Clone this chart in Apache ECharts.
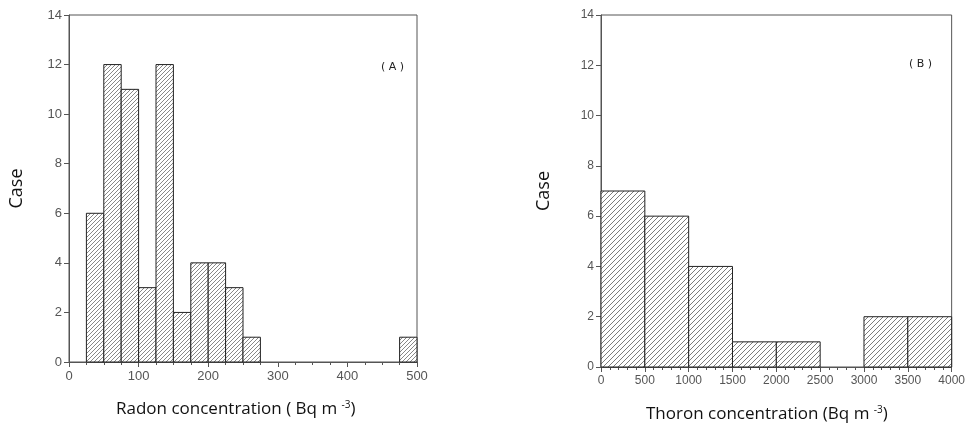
<!DOCTYPE html>
<html>
<head>
<meta charset="utf-8">
<script src="https://cdn.jsdelivr.net/npm/echarts@6/dist/echarts.min.js"></script>
<style>
  html, body { margin: 0; padding: 0; background: #fff; }
  #chart { width: 968px; height: 432px; }
</style>
</head>
<body>
<div id="chart"></div>
<script>
// radon histogram (A), bins 25 Bq/m3 wide
const radonBinWidth = 25
const radonBinStart = [25, 50, 75, 100, 125, 150, 175, 200, 225, 250, 475]
const radonCounts = [6, 12, 11, 3, 12, 2, 4, 4, 3, 1, 1]
const radonTicks = [0, 100, 200, 300, 400, 500]

// thoron histogram (B), bins 500 Bq/m3 wide
const thoronBinWidth = 500
const thoronBinStart = [0, 500, 1000, 1500, 2000, 2500, 3000, 3500]
const thoronCounts = [7, 6, 4, 1, 1, 0, 2, 2]
const thoronTicks = [0, 500, 1000, 1500, 2000, 2500, 3000, 3500, 4000]

const caseTicks = [0, 2, 4, 6, 8, 10, 12, 14]

// hatch fill "////"
function hatch(step, color) {
  const c = document.createElement('canvas')
  c.width = step
  c.height = step
  const ctx = c.getContext('2d')
  ctx.fillStyle = '#fff'
  ctx.fillRect(0, 0, step, step)
  ctx.strokeStyle = color
  ctx.lineWidth = 0.7
  ctx.beginPath()
  ctx.moveTo(-1, step + 1)
  ctx.lineTo(step + 1, -1)
  ctx.moveTo(-1, 1)
  ctx.lineTo(1, -1)
  ctx.moveTo(step - 1, step + 1)
  ctx.lineTo(step + 1, step - 1)
  ctx.stroke()
  return { image: c, repeat: 'repeat' }
}

function histData(starts, counts) {
  return starts.map((s, i) => [s, counts[i]])
}

function histSeries(idx, width, data, fill) {
  return {
    type: 'custom',
    xAxisIndex: idx,
    yAxisIndex: idx,
    data: data,
    renderItem: function (params, api) {
      const x0 = api.value(0)
      const y = api.value(1)
      if (!y) return
      const p0 = api.coord([x0, y])
      const p1 = api.coord([x0 + width, 0])
      return {
        type: 'rect',
        shape: { x: p0[0], y: p0[1], width: p1[0] - p0[0], height: p1[1] - p0[1] },
        style: { fill: fill, stroke: '#222', lineWidth: 1 }
      }
    }
  }
}

const axisCol = '#555'
const labelCol = '#555'

function xAx(idx, ticks, split, fontSize) {
  return {
    type: 'value',
    gridIndex: idx,
    min: ticks[0],
    max: ticks[ticks.length - 1],
    interval: ticks[1] - ticks[0],
    axisLine: { show: true, lineStyle: { color: axisCol } },
    axisTick: { show: true, length: 5, lineStyle: { color: axisCol } },
    minorTick: { show: true, splitNumber: split, length: 3, lineStyle: { color: axisCol } },
    splitLine: { show: false },
    axisLabel: {
      color: labelCol, fontSize: fontSize, fontFamily: 'Liberation Sans', margin: 8,
      formatter: v => String(v)
    }
  }
}

function yAx(idx, fontSize, gap) {
  return {
    type: 'value',
    gridIndex: idx,
    min: caseTicks[0],
    max: caseTicks[caseTicks.length - 1],
    interval: caseTicks[1] - caseTicks[0],
    name: 'Case',
    nameLocation: 'middle',
    nameGap: gap,
    nameTextStyle: { fontSize: 18, fontFamily: 'Open Sans', color: '#111' },
    axisLine: { show: true, lineStyle: { color: axisCol } },
    axisTick: { show: true, length: 5, lineStyle: { color: axisCol } },
    splitLine: { show: false },
    axisLabel: { color: labelCol, fontSize: fontSize, fontFamily: 'Liberation Sans', margin: 7 }
  }
}

function axisName(x, y, main) {
  return {
    type: 'text',
    left: x,
    top: y,
    style: {
      text: '{m|' + main + '}{s|-3}{m|)}',
      rich: {
        m: { fontSize: 17, fontFamily: 'Open Sans', fill: '#111' },
        s: { fontSize: 10, fontFamily: 'Open Sans', fill: '#111', verticalAlign: 'top', padding: [0, 0, 8, 0] }
      }
    }
  }
}

const chart = echarts.init(document.getElementById('chart'), null, { renderer: 'canvas' })
chart.setOption({
  animation: false,
  backgroundColor: '#fff',
  grid: [
    { left: 69, top: 15, width: 348, height: 347, show: true, borderColor: axisCol, borderWidth: 1 },
    { left: 601, top: 15, width: 353, height: 352, show: true, borderColor: axisCol, borderWidth: 1 }
  ],
  xAxis: [
    xAx(0, radonTicks, 4, 13),
    xAx(1, thoronTicks, 5, 12)
  ],
  yAxis: [yAx(0, 13, 43), yAx(1, 12, 48)],
  series: [
    histSeries(0, radonBinWidth, histData(radonBinStart, radonCounts), hatch(4, '#555')),
    histSeries(1, thoronBinWidth, histData(thoronBinStart, thoronCounts), hatch(5, '#444'))
  ],
  graphic: [
    axisName(116, 400, 'Radon concentration ( Bq m '),
    axisName(646, 405, 'Thoron concentration (Bq m '),
    {
      type: 'text', left: 381, top: 62,
      style: { text: '( A )', fontSize: 11, fontFamily: 'DejaVu Sans', fill: '#222' }
    },
    {
      type: 'text', left: 909, top: 59,
      style: { text: '( B )', fontSize: 11, fontFamily: 'DejaVu Sans', fill: '#222' }
    }
  ]
})
</script>
</body>
</html>
